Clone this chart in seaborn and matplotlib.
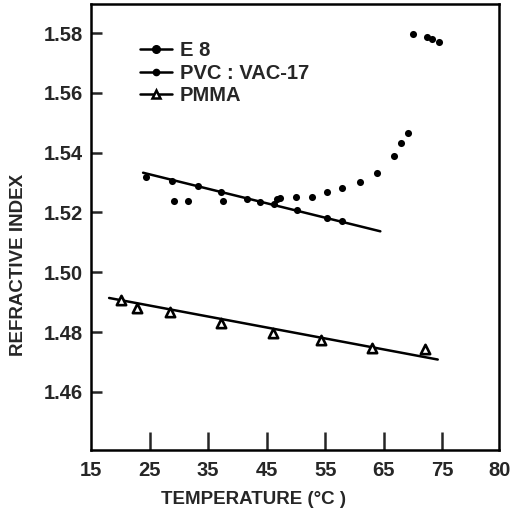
import matplotlib
matplotlib.use("Agg")
import matplotlib.pyplot as plt
import seaborn as sns
import pandas as pd
from matplotlib.lines import Line2D

# ---- data ----
pvc_t = [24.4, 28.8, 33.2, 37.2, 41.6, 43.8, 46.2, 50.2, 55.3, 57.9]
pvc_n = [1.5319, 1.5305, 1.5288, 1.5268, 1.5244, 1.5235, 1.5227, 1.5207, 1.5183, 1.5171]
pvc_fit_t = [23.9, 64.4]
pvc_fit_n = [1.5333, 1.5137]

e8_t = [29.1, 31.6, 37.6, 46.7, 47.3, 50.0, 52.7, 55.3, 57.9, 61.0, 63.8, 66.8, 68.0, 69.2,
        69.9, 72.4, 73.2, 74.5]
e8_n = [1.5238, 1.5238, 1.5238, 1.5244, 1.5250, 1.5252, 1.5252, 1.5268, 1.5283, 1.5302,
        1.5331, 1.5389, 1.5434, 1.5465, 1.5797, 1.5788, 1.5780, 1.5769]

pmma_t = [20.1, 22.9, 28.5, 37.2, 46.0, 54.3, 63.0, 72.1]
pmma_n = [1.4906, 1.4881, 1.4867, 1.4830, 1.4797, 1.4774, 1.4747, 1.4744]
pmma_fit_t = [18.1, 74.2]
pmma_fit_n = [1.4914, 1.4708]

x_ticks = [15, 25, 35, 45, 55, 65, 75, 84.7]
x_labels = ["15", "25", "35", "45", "55", "65", "75", "80"]
y_ticks = [1.46, 1.48, 1.50, 1.52, 1.54, 1.56, 1.58]
y_labels = ["1.46", "1.48", "1.50", "1.52", "1.54", "1.56", "1.58"]

sns.set_style("ticks")
plt.rcParams["font.family"] = ["Liberation Sans", "DejaVu Sans"]
plt.rcParams["font.weight"] = "bold"

fig = plt.figure(figsize=(5.11, 5.20), dpi=100)
ax = fig.add_axes([0.178, 0.135, 0.799, 0.857])

df_pvc = pd.DataFrame({"t": pvc_t, "n": pvc_n})
df_e8 = pd.DataFrame({"t": e8_t, "n": e8_n})
df_pmma = pd.DataFrame({"t": pmma_t, "n": pmma_n})
df_pvc_fit = pd.DataFrame({"t": pvc_fit_t, "n": pvc_fit_n})
df_pmma_fit = pd.DataFrame({"t": pmma_fit_t, "n": pmma_fit_n})

sns.lineplot(data=df_pvc_fit, x="t", y="n", ax=ax, color="black", linewidth=1.8)
sns.lineplot(data=df_pmma_fit, x="t", y="n", ax=ax, color="black", linewidth=1.8)
sns.scatterplot(data=df_pvc, x="t", y="n", ax=ax, color="black", s=26, edgecolor="black", linewidth=0, zorder=3)
sns.scatterplot(data=df_e8, x="t", y="n", ax=ax, color="black", s=26, edgecolor="black", linewidth=0, zorder=3)
sns.scatterplot(data=df_pmma, x="t", y="n", ax=ax, marker="^", s=45, facecolor="white",
                edgecolor="black", linewidth=1.9, zorder=3)

ax.set_xlim(15, 84.7)
ax.set_ylim(1.4406, 1.5897)
ax.set_xticks(x_ticks)
ax.set_xticklabels(x_labels, fontweight="bold")
ax.set_yticks(y_ticks)
ax.set_yticklabels(y_labels, fontweight="bold")

for s in ax.spines.values():
    s.set_visible(True)
    s.set_linewidth(1.8)
    s.set_color("black")

ax.tick_params(axis="x", direction="in", length=13, width=1.8, labelsize=14.5, pad=8)
ax.tick_params(axis="y", direction="in", length=8, width=1.8, labelsize=14.5, pad=6)
# hide tick marks at the axis ends (15 and 80) as in the reference
xt = ax.xaxis.get_major_ticks()
xt[0].tick1line.set_visible(False)
xt[-1].tick1line.set_visible(False)

ax.set_xlabel("TEMPERATURE (°C )", fontsize=13.5, fontweight="bold")
ax.set_ylabel("REFRACTIVE INDEX", fontsize=13.5, fontweight="bold")
ax.xaxis.set_label_coords(0.397, -0.093)
ax.yaxis.set_label_coords(-0.157, 0.415)

handles = [
    Line2D([], [], color="black", lw=1.8, marker="o", markersize=5.5),
    Line2D([], [], color="black", lw=1.8, marker="o", markersize=4.5),
    Line2D([], [], color="black", lw=1.8, marker="^", markersize=6, markerfacecolor="white",
           markeredgewidth=1.8),
]
ax.legend(handles, ["E 8", "PVC : VAC-17", "PMMA"], loc="upper left",
          bbox_to_anchor=(0.075, 0.958), frameon=False, handlelength=1.6,
          handletextpad=0.4, labelspacing=0.18, prop={"weight": "bold", "size": 14.5})

fig.savefig("out.png", dpi=100)
